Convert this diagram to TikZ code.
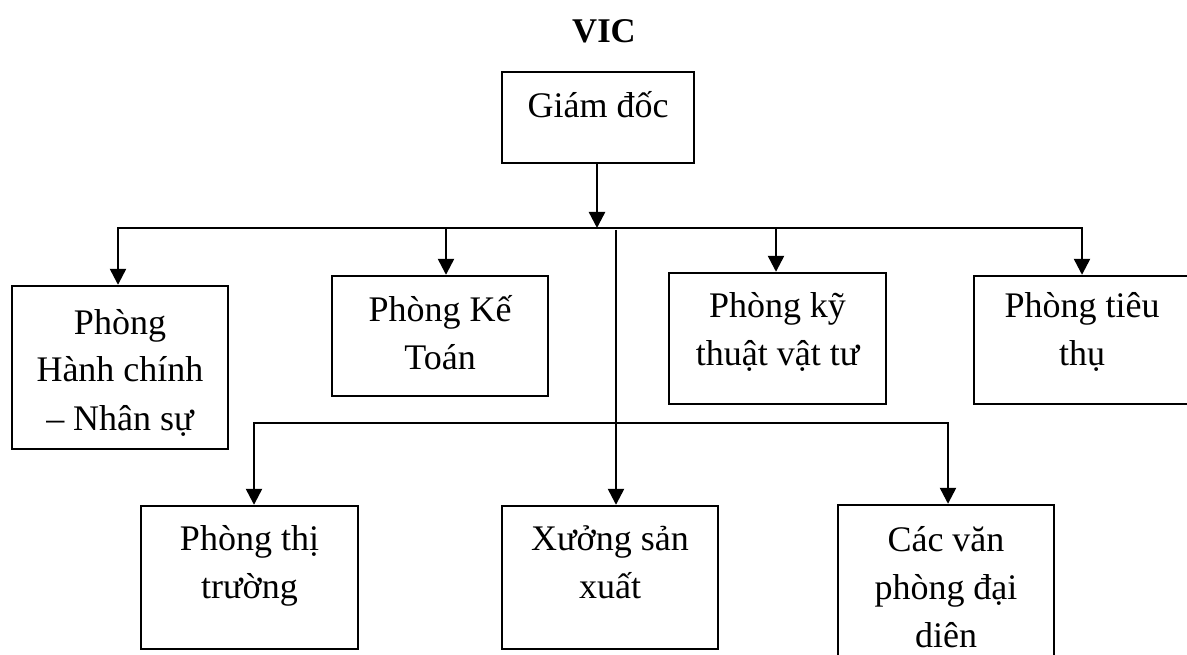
\documentclass[tikz,border=0pt]{standalone}
\usepackage{fontspec}
\setmainfont{Liberation Serif}
\usetikzlibrary{arrows.meta}
\begin{document}
\begin{tikzpicture}[x=0.75pt,y=-0.75pt,
  ln/.style={line width=1.8pt, line join=miter},
  arr/.style={ln, -{Triangle[length=12pt,width=12pt]}},
  arrb/.style={ln, {Triangle[length=12pt,width=12pt]}-{Triangle[length=12pt,width=12pt]}},
  box/.style={draw, line width=1.8pt, rectangle, inner sep=0pt},
  txt/.style={anchor=base, align=center, inner sep=0pt, font=\fontsize{27pt}{36pt}\selectfont}]
\useasboundingbox (0,0) rectangle (1187,655);
\clip (0,0) rectangle (1187,655);
% title
\node[anchor=base, inner sep=0pt, font=\fontsize{26pt}{30pt}\selectfont\bfseries] (vic) at (604,43) {VIC};
% boxes
\node[box, minimum width=144pt, minimum height=68.25pt] (gd) at (598,117.5) {};
\node[box, minimum width=162pt, minimum height=122.25pt] (hc) at (120,367.5) {};
\node[box, minimum width=162pt, minimum height=90pt] (ke) at (440,336) {};
\node[box, minimum width=162.75pt, minimum height=98.25pt] (ky) at (777.5,338.5) {};
\node[box, minimum width=162pt, minimum height=96pt] (tt) at (1082,340) {};
\node[box, minimum width=162.75pt, minimum height=107.25pt] (th) at (249.5,577.5) {};
\node[box, minimum width=162pt, minimum height=107.25pt] (xs) at (610,577.5) {};
\node[box, minimum width=162pt, minimum height=123.75pt] (cv) at (946,587.5) {};
% texts (anchor = baseline of last line)
\node[txt] (gdt) at (598,118) {Giám đốc};
\node[txt] (hct) at (120,430) {Phòng\\Hành chính\\– Nhân sự};
\node[txt] (ket) at (440,370) {Phòng Kế\\Toán};
\node[txt] (kyt) at (777.5,366) {Phòng kỹ\\thuật vật tư};
\node[txt] (ttt) at (1082,366) {Phòng tiêu\\thụ};
\node[txt] (tht) at (249.5,598) {Phòng thị\\trường};
\node[txt] (xst) at (610,598) {Xưởng sản\\xuất};
\node[txt] (cvt) at (946,647) {Các văn\\phòng đại\\diên};
% connectors
\coordinate (j1) at (597,228);
\coordinate (bl) at (118,228);
\coordinate (br) at (1082,228);
\coordinate (bk) at (446,228);
\coordinate (bv) at (776,228);
\coordinate (v0) at (616,230);
\coordinate (c1) at (254,423);
\coordinate (c2) at (948,423);
\draw[arr] (gd.south -| j1) -- (j1);
\draw[arrb] (bl |- hc.north) -- (bl) -- (br) -- (br |- tt.north);
\draw[arr] (bk) -- (bk |- ke.north);
\draw[arr] (bv) -- (bv |- ky.north);
\draw[arr] (v0) -- (v0 |- xs.north);
\draw[arrb] (c1 |- th.north) -- (c1) -- (c2) -- (c2 |- cv.north);
\end{tikzpicture}
\end{document}
